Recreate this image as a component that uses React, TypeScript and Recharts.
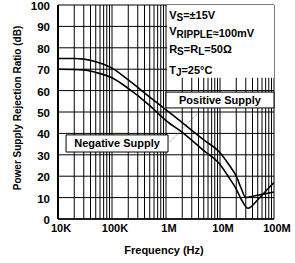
import React from "react";
import {
  LineChart,
  Line,
  XAxis,
  YAxis,
  CartesianGrid,
  ReferenceArea,
  ReferenceLine,
} from "recharts";

const FONT = "'Liberation Sans', Arial, Helvetica, sans-serif";

// frequency (Hz) / rejection ratio (dB)
const positiveFreq = [1e4, 2e4, 3e4, 5e4, 1e5, 2e5, 5e5, 1e6, 2e6, 5e6, 1e7, 1.5e7, 2e7, 2.5e7, 3e7, 4e7, 6e7, 1e8];
const positiveDb = [75, 75, 74.7, 73.5, 70.5, 65, 57, 51, 45, 37, 31, 25, 20, 14, 10, 10.6, 11.5, 12.6];

const negativeFreq = [1e4, 3e4, 5e4, 1e5, 2e5, 5e5, 1e6, 2e6, 5e6, 1e7, 1.5e7, 2e7, 2.5e7, 3.3e7, 5e7, 7e7, 1e8];
const negativeDb = [70, 69.7, 68.5, 66, 61, 53, 46, 40.5, 32, 25.5, 19, 14, 9, 5, 9, 13, 17];

const decades = [1e4, 1e5, 1e6, 1e7, 1e8];
const decadeLabels = ["10K", "100K", "1M", "10M", "100M"];
const yTicks = [0, 10, 20, 30, 40, 50, 60, 70, 80, 90, 100];

const xTicks: number[] = [];
decades.forEach((d, i) => {
  if (i === decades.length - 1) {
    xTicks.push(d);
    return;
  }
  for (let m = 1; m < 10; m++) xTicks.push(d * m);
});

const positive = positiveFreq.map((f, i) => ({ f, db: positiveDb[i] }));
const negative = negativeFreq.map((f, i) => ({ f, db: negativeDb[i] }));

const formatFreq = (v: number) => {
  const i = decades.findIndex((d) => Math.abs(d - v) / d < 1e-6);
  return i >= 0 ? decadeLabels[i] : "";
};

const InfoBox = (props: any) => {
  const { x, y } = props.viewBox;
  const tx = x + 2;
  const s = { fontFamily: FONT, fontWeight: 700, fontSize: 11, fill: "#000" } as const;
  return (
    <g>
      <text x={tx} y={y + 14} {...s}>
        V<tspan dy={2} fontSize={10}>S</tspan>
        <tspan dy={-2}>=±15V</tspan>
      </text>
      <text x={tx} y={y + 30} {...s}>
        V<tspan dy={3} fontSize={10}>RIPPLE</tspan>
        <tspan dy={-1}>≈100mV</tspan>
      </text>
      <text x={tx} y={y + 48} {...s}>
        R<tspan dy={2} fontSize={10}>S</tspan>
        <tspan dy={-2}>=R</tspan>
        <tspan dy={2} fontSize={10}>L</tspan>
        <tspan dy={-2}>=50Ω</tspan>
      </text>
      <text x={tx} y={y + 69} {...s}>
        T<tspan dy={2} fontSize={10}>J</tspan>
        <tspan dy={-2}>=25°C</tspan>
      </text>
    </g>
  );
};

const boxText = (value: string) => (props: any) => {
  const { x, y, width, height } = props.viewBox;
  return (
    <text
      x={x + width / 2}
      y={y + height / 2 + 4}
      textAnchor="middle"
      fontFamily={FONT}
      fontWeight={700}
      fontSize={11}
      fill="#000"
    >
      {value}
    </text>
  );
};

export default function App() {
  return (
    <div style={{ position: "absolute", left: 0, top: 0, background: "#fff" }}>
      <LineChart width={295} height={263} margin={{ top: 5, right: 21, left: 0, bottom: 0 }}>
        <CartesianGrid stroke="#000" strokeWidth={1} />
        <XAxis
          dataKey="f"
          type="number"
          scale="log"
          domain={[1e4, 1e8]}
          ticks={xTicks}
          interval={0}
          allowDataOverflow
          tickFormatter={formatFreq}
          tickLine={false}
          tickSize={0}
          tickMargin={5}
          height={44}
          axisLine={{ stroke: "#000", strokeWidth: 1.5 }}
          tick={{ fill: "#000", fontSize: 11, fontWeight: 700, fontFamily: FONT, dx: 3 }}
          label={{
            content: (p: any) => (
              <text
                x={p.viewBox.x + p.viewBox.width / 2 - 2}
                y={254}
                textAnchor="middle"
                fontFamily={FONT}
                fontWeight={700}
                fontSize={11}
                fill="#000"
              >
                Frequency (Hz)
              </text>
            ),
          }}
        />
        <YAxis
          type="number"
          domain={[0, 100]}
          ticks={yTicks}
          interval={0}
          width={58}
          tickLine={false}
          axisLine={{ stroke: "#000", strokeWidth: 2 }}
          tick={{ fill: "#000", fontSize: 11.5, fontWeight: 700, fontFamily: FONT, dy: 1 }}
          label={{
            content: () => (
              <text
                x={21}
                y={108}
                transform="rotate(-90 21 108)"
                textAnchor="middle"
                fontFamily={FONT}
                fontWeight={700}
                fontSize={10}
                fill="#000"
              >
                Power Supply Rejection Ratio (dB)
              </text>
            ),
          }}
        />
        <ReferenceArea
          x1={1.05e6}
          x2={1e8}
          y1={66}
          y2={100}
          fill="#fff"
          fillOpacity={1}
          stroke="none"
          label={{ content: InfoBox }}
        />
        <ReferenceArea
          x1={1e6}
          x2={1e8}
          y1={51.9}
          y2={59.3}
          fill="#fff"
          fillOpacity={1}
          stroke="#000"
          strokeWidth={1}
          label={{ content: boxText("Positive Supply") }}
        />
        <ReferenceArea
          x1={1.41e4}
          x2={1.09e6}
          y1={31.3}
          y2={39.3}
          fill="#fff"
          fillOpacity={1}
          stroke="#000"
          strokeWidth={1}
          label={{ content: boxText("Negative Supply") }}
        />
        <ReferenceLine
          segment={[
            { x: 1.17e6, y: 36 },
            { x: 4.8e6, y: 51.9 },
          ]}
          stroke="#555"
          strokeWidth={0.7}
          strokeDasharray="1 1"
        />
        <Line
          data={positive}
          dataKey="db"
          type="monotone"
          stroke="#000"
          strokeWidth={1.6}
          dot={false}
          isAnimationActive={false}
        />
        <Line
          data={negative}
          dataKey="db"
          type="monotone"
          stroke="#000"
          strokeWidth={1.6}
          dot={false}
          isAnimationActive={false}
        />
      </LineChart>
    </div>
  );
}
